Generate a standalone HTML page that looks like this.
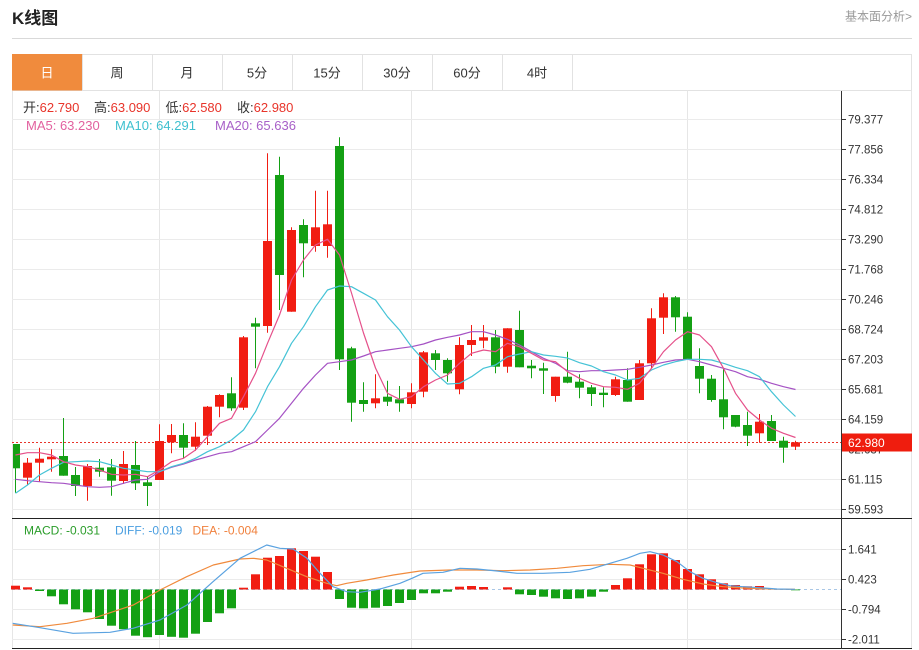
<!DOCTYPE html>
<html><head><meta charset="utf-8"><style>
html,body{margin:0;padding:0;background:#fff;}
svg{display:block;}
text{font-family:"Liberation Sans","Noto Sans CJK SC",sans-serif;}
</style></head><body>
<svg width="919" height="650" viewBox="0 0 919 650" xmlns="http://www.w3.org/2000/svg">
<rect width="919" height="650" fill="#fff"/>
<!-- header -->
<text x="12" y="24" font-size="17" font-weight="bold" fill="#222">K线图</text>
<text x="845" y="20.5" font-size="12" fill="#999">基本面分析&gt;</text>
<line x1="12" y1="38.5" x2="912" y2="38.5" stroke="#d9d9d9"/>
<!-- tabs -->
<rect x="12.5" y="54.5" width="899" height="36" fill="none" stroke="#e2e2e2"/>
<rect x="12" y="54" width="70.5" height="36.5" fill="#f08b3d"/>
<g stroke="#e2e2e2">
<line x1="82.5" y1="54.5" x2="82.5" y2="90.5"/><line x1="152.5" y1="54.5" x2="152.5" y2="90.5"/>
<line x1="222.5" y1="54.5" x2="222.5" y2="90.5"/><line x1="292.5" y1="54.5" x2="292.5" y2="90.5"/>
<line x1="362.5" y1="54.5" x2="362.5" y2="90.5"/><line x1="432.5" y1="54.5" x2="432.5" y2="90.5"/>
<line x1="502.5" y1="54.5" x2="502.5" y2="90.5"/><line x1="572.5" y1="54.5" x2="572.5" y2="90.5"/>
</g>
<g font-size="13" text-anchor="middle" fill="#333">
<text x="47" y="77.5" fill="#fff">日</text><text x="117" y="77.5">周</text><text x="187" y="77.5">月</text>
<text x="257" y="77.5">5分</text><text x="327" y="77.5">15分</text><text x="397" y="77.5">30分</text>
<text x="467" y="77.5">60分</text><text x="537" y="77.5">4时</text>
</g>
<!-- frame -->
<g stroke="#e6e6e6">
<line x1="12.5" y1="90.5" x2="12.5" y2="649"/>
<line x1="911.5" y1="90.5" x2="911.5" y2="649"/>
<line x1="159.5" y1="90.5" x2="159.5" y2="649"/>
<line x1="411.5" y1="90.5" x2="411.5" y2="649"/>
<line x1="687.5" y1="90.5" x2="687.5" y2="649"/>
</g>
<g stroke="#ebebeb">
<line x1="12" y1="119.5" x2="841" y2="119.5"/><line x1="12" y1="149.5" x2="841" y2="149.5"/>
<line x1="12" y1="179.5" x2="841" y2="179.5"/><line x1="12" y1="209.5" x2="841" y2="209.5"/>
<line x1="12" y1="239.5" x2="841" y2="239.5"/><line x1="12" y1="269.5" x2="841" y2="269.5"/>
<line x1="12" y1="299.5" x2="841" y2="299.5"/><line x1="12" y1="329.5" x2="841" y2="329.5"/>
<line x1="12" y1="359.5" x2="841" y2="359.5"/><line x1="12" y1="389.5" x2="841" y2="389.5"/>
<line x1="12" y1="419.5" x2="841" y2="419.5"/><line x1="12" y1="449.5" x2="841" y2="449.5"/>
<line x1="12" y1="479.5" x2="841" y2="479.5"/><line x1="12" y1="509.5" x2="841" y2="509.5"/>
<line x1="12" y1="549.5" x2="841" y2="549.5"/><line x1="12" y1="579.5" x2="841" y2="579.5"/>
<line x1="12" y1="609.5" x2="841" y2="609.5"/><line x1="12" y1="639.5" x2="841" y2="639.5"/>
</g>
<!-- info text -->
<g font-size="13">
<text x="23" y="112"><tspan fill="#333">开:</tspan><tspan fill="#e8342a">62.790</tspan></text>
<text x="94" y="112"><tspan fill="#333">高:</tspan><tspan fill="#e8342a">63.090</tspan></text>
<text x="165.5" y="112"><tspan fill="#333">低:</tspan><tspan fill="#e8342a">62.580</tspan></text>
<text x="237" y="112"><tspan fill="#333">收:</tspan><tspan fill="#e8342a">62.980</tspan></text>
<text x="26" y="130" fill="#e2619f">MA5: 63.230</text>
<text x="115" y="130" fill="#3fc0cf">MA10: 64.291</text>
<text x="215" y="130" fill="#a860c8">MA20: 65.636</text>
</g>
<!-- price line -->
<line x1="12" y1="442.5" x2="841" y2="442.5" stroke="#e8342a" stroke-dasharray="2,2"/>
<!-- candles green -->
<g fill="#14a014">
<path stroke="#14a014" stroke-width="1" fill="none" d="M15.5 444V492.7M63.5 418V475.7M75.5 467V496M99.5 459V476.7M111.5 459V495.7M135.5 441V490M147.5 476.7V506M183.5 423.3V458.3M231.5 377.3V410.7M255.5 317.7V368.3M279.5 156.7V310M303.5 219.3V277.3M339.5 137.3V370M351.5 346.7V421.7M363.5 382.3V411.7M387.5 380.7V406M399.5 386V411.7M435.5 350V370M447.5 358.3V381.7M495.5 330V373.3M519.5 310.7V367.3M531.5 360V378.3M543.5 362.7V394M567.5 351.7V383.3M579.5 374.3V398.3M591.5 385V406M603.5 387.3V407.3M627.5 368.3V401.7M675.5 296V331.7M687.5 312.3V359M699.5 348.3V393.3M711.5 375V401.7M723.5 368.3V429.3M735.5 415V427.3M747.5 411.7V446M771.5 415V441M783.5 436.7V462.7"/>
<rect x="13" y="444" width="7" height="24.3"/>
<rect x="59" y="456" width="9" height="19.7"/>
<rect x="71" y="475" width="9" height="11"/>
<rect x="95" y="467.7" width="9" height="4"/>
<rect x="107" y="467.3" width="9" height="13.4"/>
<rect x="131" y="465" width="9" height="18.3"/>
<rect x="143" y="482.3" width="9" height="3.7"/>
<rect x="179" y="435" width="9" height="12.7"/>
<rect x="227" y="393.3" width="9" height="15"/>
<rect x="251" y="323.3" width="9" height="3.4"/>
<rect x="275" y="175" width="9" height="100"/>
<rect x="299" y="225" width="9" height="18.3"/>
<rect x="335" y="146" width="9" height="213.3"/>
<rect x="347" y="348.3" width="9" height="54.4"/>
<rect x="359" y="400" width="9" height="4"/>
<rect x="383" y="396.7" width="9" height="5"/>
<rect x="395" y="399.3" width="9" height="4"/>
<rect x="431" y="353.3" width="9" height="6.7"/>
<rect x="443" y="360" width="9" height="13.3"/>
<rect x="491" y="337.3" width="9" height="29.4"/>
<rect x="515" y="330" width="9" height="37.3"/>
<rect x="527" y="365.7" width="9" height="2.6"/>
<rect x="539" y="368.3" width="9" height="2.4"/>
<rect x="563" y="376.7" width="9" height="6"/>
<rect x="575" y="381.7" width="9" height="6"/>
<rect x="587" y="387.3" width="9" height="6.7"/>
<rect x="599" y="392.7" width="9" height="2.3"/>
<rect x="623" y="380" width="9" height="21.7"/>
<rect x="671" y="297.3" width="9" height="20"/>
<rect x="683" y="316.7" width="9" height="42.3"/>
<rect x="695" y="366" width="9" height="12.7"/>
<rect x="707" y="378.7" width="9" height="21.3"/>
<rect x="719" y="399.3" width="9" height="18"/>
<rect x="731" y="415" width="9" height="11.7"/>
<rect x="743" y="425" width="9" height="10.7"/>
<rect x="767" y="421" width="9" height="20"/>
<rect x="779" y="440.7" width="9" height="7"/>
</g>
<!-- candles red -->
<g fill="#f11d12">
<path stroke="#f11d12" stroke-width="1" fill="none" d="M27.5 458V485M39.5 447.7V481.7M51.5 449.3V471.7M87.5 464V500.7M123.5 451V484M159.5 424.3V480M171.5 424V453.3M195.5 422.3V450.7M207.5 406V445M219.5 394.3V417.3M243.5 336V410M267.5 153.3V332.7M291.5 227.3V311.7M315.5 190.7V251.7M327.5 190.7V257.7M375.5 374.3V408.3M411.5 383.3V408.3M423.5 351V397.3M459.5 337.3V394.3M471.5 325V356M483.5 325V348.3M507.5 328.3V372.7M555.5 376.7V401.7M615.5 376.7V396M639.5 360V400M651.5 308.3V368.3M663.5 293.3V334M759.5 414V442.7M795.5 440.7V450"/>
<rect x="23" y="462.7" width="9" height="15"/>
<rect x="35" y="458.7" width="9" height="4"/>
<rect x="47" y="456.7" width="9" height="2.6"/>
<rect x="83" y="466" width="9" height="20"/>
<rect x="119" y="464" width="9" height="17"/>
<rect x="155" y="441" width="9" height="39"/>
<rect x="167" y="435" width="9" height="7.3"/>
<rect x="191" y="436.7" width="9" height="10"/>
<rect x="203" y="406.7" width="9" height="29"/>
<rect x="215" y="395" width="9" height="11.7"/>
<rect x="239" y="337.3" width="9" height="70.4"/>
<rect x="263" y="241" width="9" height="85"/>
<rect x="287" y="230" width="9" height="81.7"/>
<rect x="311" y="227.3" width="9" height="18.7"/>
<rect x="323" y="224.3" width="9" height="21.7"/>
<rect x="371" y="398.3" width="9" height="5"/>
<rect x="407" y="392.3" width="9" height="11.7"/>
<rect x="419" y="352.3" width="9" height="39.4"/>
<rect x="455" y="345" width="9" height="44.3"/>
<rect x="467" y="340" width="9" height="5"/>
<rect x="479" y="337.3" width="9" height="3.4"/>
<rect x="503" y="328.3" width="9" height="38.4"/>
<rect x="551" y="376.7" width="9" height="19.3"/>
<rect x="611" y="379.3" width="9" height="15.7"/>
<rect x="635" y="363.3" width="9" height="36.7"/>
<rect x="647" y="318.3" width="9" height="45"/>
<rect x="659" y="297.3" width="9" height="20.4"/>
<rect x="755" y="421.7" width="9" height="11.6"/>
<rect x="791" y="442.3" width="9" height="4.4"/>
</g>
<!-- MA lines -->
<g fill="none" stroke-width="1.2" stroke-linejoin="round">
<polyline stroke="#a552c4" points="15.5,479.3 27.5,480.7 39.5,481.7 51.5,482.7 63.5,483.3 75.5,485 87.5,486.7 99.5,487.3 111.5,486.7 123.5,483.3 135.5,480 147.5,479.3 159.5,471.7 171.5,467.3 183.5,464 195.5,460 207.5,456.7 219.5,453.3 231.5,451.7 243.5,446.7 255.5,441.7 267.5,430 279.5,418.3 291.5,403.3 303.5,388.3 315.5,375 327.5,363.3 339.5,361.7 351.5,360 363.5,356 375.5,351.7 387.5,350 399.5,348.3 411.5,346.7 423.5,344 435.5,340 447.5,337.3 459.5,335 471.5,331.7 483.5,331.7 495.5,335 507.5,339.3 519.5,345 531.5,351.7 543.5,358.3 555.5,363.3 567.5,370.7 579.5,371.7 591.5,370.7 603.5,370.7 615.5,370 627.5,369.3 639.5,367.3 651.5,365 663.5,362.3 675.5,360 687.5,359.3 699.5,361.7 711.5,365 723.5,368.3 735.5,371.7 747.5,376.7 759.5,379.3 771.5,383.3 783.5,386.7 795.5,389.5"/>
<polyline stroke="#45c3d6" points="15.5,493.3 27.5,485 39.5,475 51.5,468.3 63.5,462.3 75.5,461.7 87.5,461 99.5,461.7 111.5,465 123.5,468.3 135.5,470 147.5,471.7 159.5,471.7 171.5,466.7 183.5,463.3 195.5,458.3 207.5,451.7 219.5,446.7 231.5,440 243.5,430 255.5,411.7 267.5,386.7 279.5,366.7 291.5,343.3 303.5,326.7 315.5,306.7 327.5,290 339.5,286 351.5,286.7 363.5,293.3 375.5,300 387.5,316.7 399.5,330 411.5,346.7 423.5,360 435.5,373.3 447.5,384 459.5,383.3 471.5,376.7 483.5,368.3 495.5,365 507.5,356.7 519.5,354 531.5,351.7 543.5,355 555.5,356.3 567.5,358 579.5,362.7 591.5,366 603.5,371.7 615.5,375 627.5,380 639.5,378.3 651.5,370 663.5,365 675.5,361.7 687.5,359.3 699.5,359.3 711.5,360 723.5,363.3 735.5,367.3 747.5,370.7 759.5,376.7 771.5,391.7 783.5,405 795.5,416.5"/>
<polyline stroke="#e5508a" points="15.5,455 27.5,452.7 39.5,452.7 51.5,455 63.5,461.7 75.5,465 87.5,466.7 99.5,470 111.5,474.3 123.5,475 135.5,474.3 147.5,476.7 159.5,470 171.5,461.7 183.5,458.3 195.5,450 207.5,436.7 219.5,423.3 231.5,418.3 243.5,396.7 255.5,373.3 267.5,343.3 279.5,315 291.5,280 303.5,260 315.5,245 327.5,239.3 339.5,255 351.5,293 363.5,333 375.5,368 387.5,393.3 399.5,399.3 411.5,396.7 423.5,386.7 435.5,380 447.5,375 459.5,363.3 471.5,353.3 483.5,350 495.5,351.7 507.5,343.3 519.5,346.7 531.5,353.3 543.5,360 555.5,361.7 567.5,371.7 579.5,378.3 591.5,383.3 603.5,386.7 615.5,387.3 627.5,389.3 639.5,383.3 651.5,368.3 663.5,351.7 675.5,340 687.5,331.7 699.5,335 711.5,346.7 723.5,368.3 735.5,393.3 747.5,410 759.5,420 771.5,428.3 783.5,433.3 795.5,437.5"/>
</g>
<!-- MACD -->
<line x1="12" y1="589.5" x2="841" y2="589.5" stroke="#a9c7e6" stroke-dasharray="3,3"/>
<g fill="#f11d12">
<rect x="11" y="585.7" width="9" height="3.8"/><rect x="23" y="587.3" width="9" height="2.2"/>
<rect x="239" y="587.7" width="9" height="1.8"/><rect x="251" y="574.3" width="9" height="15.2"/>
<rect x="263" y="557.7" width="9" height="31.8"/><rect x="275" y="556" width="9" height="33.5"/>
<rect x="287" y="548.3" width="9" height="41.2"/><rect x="299" y="551" width="9" height="38.5"/>
<rect x="311" y="556.7" width="9" height="32.8"/><rect x="323" y="572" width="9" height="17.5"/>
<rect x="455" y="586.7" width="9" height="2.8"/><rect x="467" y="586" width="9" height="3.5"/>
<rect x="479" y="587" width="9" height="2.5"/><rect x="503" y="587.3" width="9" height="2.2"/>
<rect x="611" y="585" width="9" height="4.5"/><rect x="623" y="578.3" width="9" height="11.2"/>
<rect x="635" y="564.3" width="9" height="25.2"/><rect x="647" y="554.3" width="9" height="35.2"/>
<rect x="659" y="553.3" width="9" height="36.2"/><rect x="671" y="560" width="9" height="29.5"/>
<rect x="683" y="569" width="9" height="20.5"/><rect x="695" y="574.3" width="9" height="15.2"/>
<rect x="707" y="579.3" width="9" height="10.2"/><rect x="719" y="583.3" width="9" height="6.2"/>
<rect x="731" y="585" width="9" height="4.5"/><rect x="743" y="586.3" width="9" height="3.2"/>
<rect x="755" y="586" width="9" height="3.5"/><rect x="767" y="588.5" width="9" height="1"/>
</g>
<g fill="#14a014">
<rect x="35" y="589.5" width="9" height="1.5"/><rect x="47" y="589.5" width="9" height="6.8"/>
<rect x="59" y="589.5" width="9" height="14.8"/><rect x="71" y="589.5" width="9" height="19.8"/>
<rect x="83" y="589.5" width="9" height="22.8"/><rect x="95" y="589.5" width="9" height="29.5"/>
<rect x="107" y="589.5" width="9" height="36.2"/><rect x="119" y="589.5" width="9" height="39.7"/>
<rect x="131" y="589.5" width="9" height="46.2"/><rect x="143" y="589.5" width="9" height="47.7"/>
<rect x="155" y="589.5" width="9" height="45.5"/><rect x="167" y="589.5" width="9" height="47.3"/>
<rect x="179" y="589.5" width="9" height="48.2"/><rect x="191" y="589.5" width="9" height="44.2"/>
<rect x="203" y="589.5" width="9" height="32.5"/><rect x="215" y="589.5" width="9" height="23.8"/>
<rect x="227" y="589.5" width="9" height="18.8"/>
<rect x="335" y="589.5" width="9" height="9.5"/><rect x="347" y="589.5" width="9" height="18.2"/>
<rect x="359" y="589.5" width="9" height="18.8"/><rect x="371" y="589.5" width="9" height="18.2"/>
<rect x="383" y="589.5" width="9" height="16.5"/><rect x="395" y="589.5" width="9" height="13.5"/>
<rect x="407" y="589.5" width="9" height="10.5"/><rect x="419" y="589.5" width="9" height="3.8"/>
<rect x="431" y="589.5" width="9" height="3.8"/><rect x="443" y="589.5" width="9" height="2.2"/>
<rect x="515" y="589.5" width="9" height="4.8"/><rect x="527" y="589.5" width="9" height="5.5"/>
<rect x="539" y="589.5" width="9" height="7.2"/><rect x="551" y="589.5" width="9" height="8.8"/>
<rect x="563" y="589.5" width="9" height="9.5"/><rect x="575" y="589.5" width="9" height="8.8"/>
<rect x="587" y="589.5" width="9" height="7.2"/><rect x="599" y="589.5" width="9" height="2.2"/>
<rect x="791" y="589.5" width="9" height="0.8"/>
</g>
<g fill="none" stroke-width="1.2" stroke-linejoin="round">
<polyline stroke="#f08a3c" points="12.7,625 40,626.7 67,623.3 93.3,618.3 133.3,605 160,590 186.7,576.7 213.3,565 240,559 253.3,558.3 266.7,560 286.7,568.3 306.7,576.7 326.7,583.3 336.7,585.7 346.7,583.3 366.7,580 393.3,575 420,571 450,570 477,570 503,570.7 530,570 557,568.3 583,565.7 610,564.3 630,565 643,568.3 663,573.3 683,579.3 703,584 723,586.7 743,588 770,589 795,589.3"/>
<polyline stroke="#5aa2e0" points="12.7,623.3 40,627.7 73,633.3 110,632.3 133,628.3 160,620 187,605 213,581.7 240,558.3 266.7,545 280,548.3 293,549 307,558.3 320,573.3 333,586.7 346.7,591.7 360,592.3 380,589 400,583.3 412,578.3 423,573.3 443,572.3 460,568.3 477,569 497,571 517,573.3 543,573.3 570,572.3 590,569.3 610,563.3 627,558.3 640,553.3 650,551.7 663,555 677,561.7 690,571.7 703,578.3 717,582.7 730,585.7 743,586.7 760,587.7 777,589 795,589.3"/>
</g>
<g font-size="12">
<text x="24" y="534.5" fill="#2a9d2a">MACD: -0.031</text>
<text x="115" y="534.5" fill="#4a9ee0">DIFF: -0.019</text>
<text x="192.5" y="534.5" fill="#f0803c">DEA: -0.004</text>
</g>
<!-- dark borders / axis -->
<line x1="12" y1="518.5" x2="912" y2="518.5" stroke="#222"/>
<line x1="12" y1="648.5" x2="912" y2="648.5" stroke="#222"/>
<line x1="841.5" y1="91" x2="841.5" y2="649" stroke="#333"/>
<g stroke="#333">
<line x1="841" y1="119.5" x2="846" y2="119.5"/><line x1="841" y1="149.5" x2="846" y2="149.5"/>
<line x1="841" y1="179.5" x2="846" y2="179.5"/><line x1="841" y1="209.5" x2="846" y2="209.5"/>
<line x1="841" y1="239.5" x2="846" y2="239.5"/><line x1="841" y1="269.5" x2="846" y2="269.5"/>
<line x1="841" y1="299.5" x2="846" y2="299.5"/><line x1="841" y1="329.5" x2="846" y2="329.5"/>
<line x1="841" y1="359.5" x2="846" y2="359.5"/><line x1="841" y1="389.5" x2="846" y2="389.5"/>
<line x1="841" y1="419.5" x2="846" y2="419.5"/><line x1="841" y1="449.5" x2="846" y2="449.5"/>
<line x1="841" y1="479.5" x2="846" y2="479.5"/><line x1="841" y1="509.5" x2="846" y2="509.5"/>
<line x1="841" y1="549.5" x2="846" y2="549.5"/><line x1="841" y1="579.5" x2="846" y2="579.5"/>
<line x1="841" y1="609.5" x2="846" y2="609.5"/><line x1="841" y1="639.5" x2="846" y2="639.5"/>
</g>
<g font-size="11.5" fill="#333">
<text x="848" y="123.5">79.377</text><text x="848" y="153.5">77.856</text>
<text x="848" y="183.5">76.334</text><text x="848" y="213.5">74.812</text>
<text x="848" y="243.5">73.290</text><text x="848" y="273.5">71.768</text>
<text x="848" y="303.5">70.246</text><text x="848" y="333.5">68.724</text>
<text x="848" y="363.5">67.203</text><text x="848" y="393.5">65.681</text>
<text x="848" y="423.5">64.159</text><text x="848" y="453.5">62.637</text>
<text x="848" y="483.5">61.115</text><text x="848" y="513.5">59.593</text>
<text x="848" y="553.5">1.641</text><text x="848" y="583.5">0.423</text>
<text x="848" y="613.5">-0.794</text><text x="848" y="643.5">-2.011</text>
</g>
<rect x="842" y="433.5" width="70" height="18" fill="#ef1d0e"/>
<text x="848" y="447" font-size="12" fill="#fff">62.980</text>
</svg>
</body></html>
